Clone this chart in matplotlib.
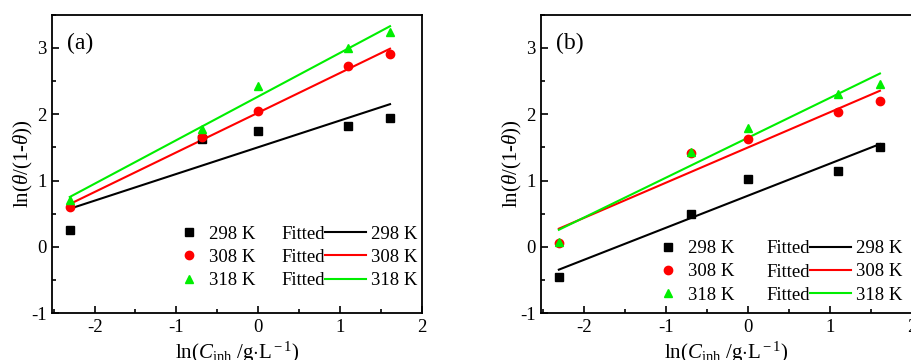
import matplotlib
matplotlib.use("Agg")
import matplotlib.pyplot as plt
import numpy as np
from matplotlib.legend_handler import HandlerBase
from matplotlib.lines import Line2D
from matplotlib.text import Text

plt.rcParams['font.family'] = ['Liberation Serif', 'DejaVu Serif']
plt.rcParams['mathtext.fontset'] = 'custom'
plt.rcParams['mathtext.rm'] = 'Liberation Serif'
plt.rcParams['mathtext.it'] = 'Liberation Serif:italic'
plt.rcParams['axes.unicode_minus'] = False

# ln(C) for 0.1, 0.5, 1, 3, 5 g/L
ln_c = np.log([0.1, 0.5, 1.0, 3.0, 5.0])
temps = ['298 K', '308 K', '318 K']
colors = ['black', '#ff0000', '#00ee00']
markers = ['s', 'o', '^']

# panel (a)
a_298 = [0.26, 1.62, 1.74, 1.83, 1.95]
a_308 = [0.60, 1.66, 2.05, 2.73, 2.91]
a_318 = [0.71, 1.77, 2.43, 3.00, 3.24]
# panel (b)
b_298 = [-0.46, 0.49, 1.03, 1.15, 1.51]
b_308 = [0.06, 1.42, 1.62, 2.04, 2.20]
b_318 = [0.08, 1.43, 1.79, 2.30, 2.45]


class FittedHandler(HandlerBase):
    # "Fitted" text followed by the line sample
    def create_artists(self, legend, orig_handle, xdescent, ydescent,
                       width, height, fontsize, trans):
        ymid = height / 2 - ydescent
        tw = 2.33 * fontsize
        txt = Text(-xdescent, ymid - 0.36 * fontsize, 'Fitted', ha='left',
                   va='baseline', fontproperties=legend.prop, transform=trans)
        ln = Line2D([-xdescent + tw, width - xdescent], [ymid, ymid],
                    color=orig_handle.get_color(),
                    lw=orig_handle.get_linewidth(), transform=trans)
        return [txt, ln]


def draw_panel(rect, tag, series, leg1_pos, leg2_pos):
    ax = fig.add_axes(rect)
    pts = []
    fits = []
    for y, c in zip(series, colors):
        k, b = np.polyfit(ln_c, y, 1)
        xx = np.array([ln_c[0], ln_c[-1]])
        f, = ax.plot(xx, k * xx + b, color=c, lw=1.5)
        fits.append(f)
    for y, c, m in zip(series, colors, markers):
        p, = ax.plot(ln_c, y, ls='none', marker=m, color=c,
                     ms=6 if m != 's' else 5.5)
        pts.append(p)
    ax.set_xlim(-2.52, 2)
    ax.set_ylim(-1, 3.5)
    ax.set_xticks([-2, -1, 0, 1, 2])
    ax.set_xticks(np.arange(-2.5, 2.01, 0.5), minor=True)
    ax.set_yticks([-1, 0, 1, 2, 3])
    ax.set_yticks(np.arange(-1, 3.51, 0.5), minor=True)
    ax.tick_params(which='both', direction='in', labelsize=13.5, width=1.2)
    ax.tick_params(which='major', length=5, pad=4)
    ax.tick_params(which='minor', length=3)
    for s in ax.spines.values():
        s.set_linewidth(1.3)
    ax.set_xlabel(r'ln($C_{\rm inh}$ /g$\cdot$L$^{\rm -1}$)', fontsize=15, labelpad=3)
    ax.set_ylabel(r'ln($\theta$/(1-$\theta$))', fontsize=15, labelpad=-3)
    ax.text(0.04, 0.94, tag, transform=ax.transAxes, fontsize=17, va='top', ha='left')

    leg1 = ax.legend(pts, temps, loc='upper left', bbox_to_anchor=leg1_pos,
                     frameon=False, fontsize=13.5, handlelength=1.0,
                     handletextpad=0.55, labelspacing=0.32, borderpad=0,
                     borderaxespad=0)
    ax.add_artist(leg1)
    ax.legend(fits, temps, loc='upper left', bbox_to_anchor=leg2_pos,
              frameon=False, fontsize=13.5, handlelength=4.5,
              handletextpad=0.3, labelspacing=0.32, borderpad=0,
              borderaxespad=0, handler_map={Line2D: FittedHandler()})
    return ax


fig = plt.figure(figsize=(9.11, 3.6), dpi=100)
W, H = 911.0, 360.0
draw_panel([52 / W, (H - 313.3) / H, 370 / W, 298.6 / H], '(a)',
           [a_298, a_308, a_318], (0.345, 0.293), (0.62, 0.293))
draw_panel([541 / W, (H - 313.3) / H, 371 / W, 298.6 / H], '(b)',
           [b_298, b_308, b_318], (0.318, 0.245), (0.607, 0.245))

fig.savefig('out.png', dpi=100)
